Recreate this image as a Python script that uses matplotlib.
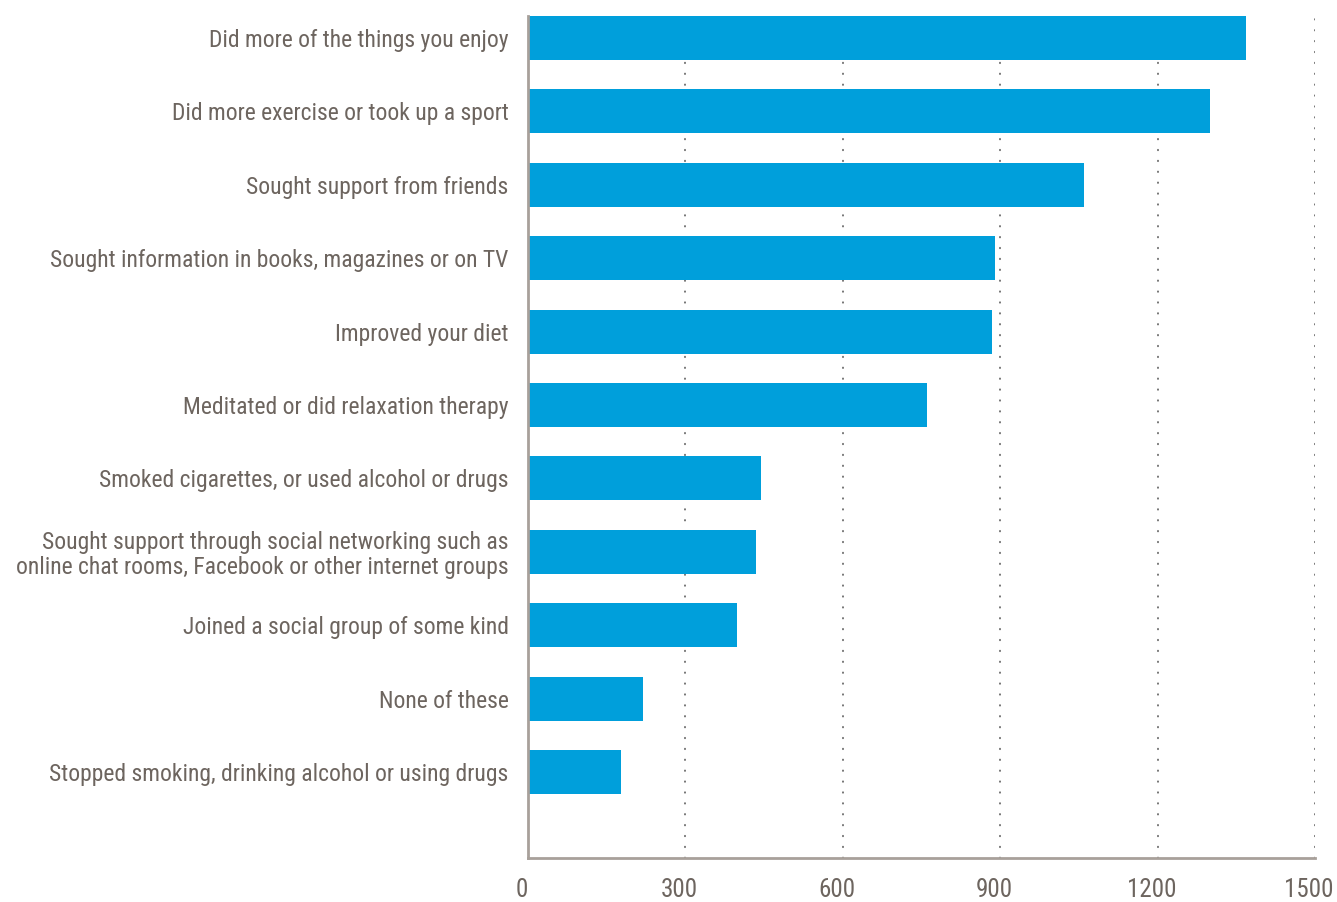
import matplotlib
matplotlib.use("Agg")
import matplotlib.pyplot as plt
from matplotlib import font_manager
import matplotlib.transforms as mtransforms

categories = [
    "Did more of the things you enjoy",
    "Did more exercise or took up a sport",
    "Sought support from friends",
    "Sought information in books, magazines or on TV",
    "Improved your diet",
    "Meditated or did relaxation therapy",
    "Smoked cigarettes, or used alcohol or drugs",
    "Sought support through social networking such as\nonline chat rooms, Facebook or other internet groups",
    "Joined a social group of some kind",
    "None of these",
    "Stopped smoking, drinking alcohol or using drugs",
]
values = [1368, 1300, 1060, 890, 884, 760, 444, 435, 398, 219, 177]
xticks = [0, 300, 600, 900, 1200, 1500]

names = {f.name for f in font_manager.fontManager.ttflist}
fam = "Roboto Condensed" if "Roboto Condensed" in names else ("Liberation Sans Narrow" if "Liberation Sans Narrow" in names else "Roboto")
plt.rcParams['font.family'] = [fam, 'DejaVu Sans']

text_color = "#6d655f"
spine_color = "#a8a09a"
bar_color = "#009fdb"

fig = plt.figure(figsize=(13.37, 9.02), dpi=100)
ax = fig.add_axes([528/1337, (902-858)/902, (1315-528)/1337, (858-16)/902])

y = list(range(len(categories)))
for xv in xticks[1:]:
    ax.axvline(xv, color="#6f6f6f", linewidth=1.4, linestyle=(0, (0.2, 5.4)),
               dash_capstyle="round", zorder=1)
ax.barh(y, values, height=0.6, color=bar_color, zorder=2)

ax.set_xlim(0, 1500)
ax.set_ylim(11.17, -0.3)
ax.set_xticks(xticks)
ax.set_xticklabels([str(t) for t in xticks], fontsize=18, color=text_color)
ax.set_yticks(y)
ax.set_yticklabels(categories, fontsize=17, color=text_color, linespacing=1.08)
ax.tick_params(axis="x", length=0, pad=14.5)
ax.tick_params(axis="y", length=0, pad=14)
off = mtransforms.ScaledTranslation(-6/100, 0, fig.dpi_scale_trans)
for lbl in ax.get_xticklabels():
    lbl.set_transform(lbl.get_transform() + off)

for s in ["top", "right"]:
    ax.spines[s].set_visible(False)
for s in ["left", "bottom"]:
    ax.spines[s].set_color(spine_color)
    ax.spines[s].set_linewidth(2)
    ax.spines[s].set_zorder(3)

fig.savefig("out.png", dpi=100)
